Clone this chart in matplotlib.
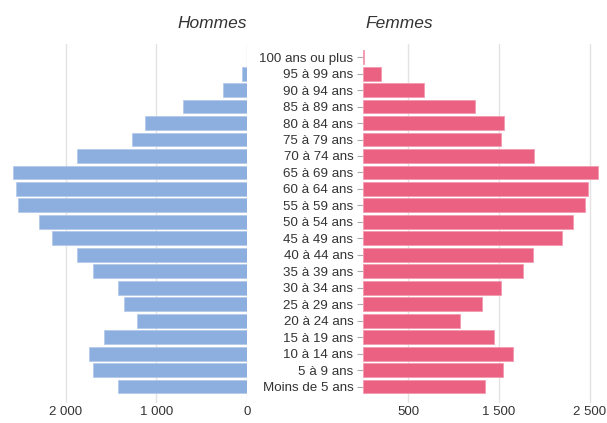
import matplotlib.pyplot as plt
import numpy as np

plt.rcParams['font.family'] = ['Liberation Sans', 'DejaVu Sans']

# Classes d'âge, de bas en haut
ages = ["Moins de 5 ans", "5 à 9 ans", "10 à 14 ans", "15 à 19 ans", "20 à 24 ans",
        "25 à 29 ans", "30 à 34 ans", "35 à 39 ans", "40 à 44 ans", "45 à 49 ans",
        "50 à 54 ans", "55 à 59 ans", "60 à 64 ans", "65 à 69 ans", "70 à 74 ans",
        "75 à 79 ans", "80 à 84 ans", "85 à 89 ans", "90 à 94 ans", "95 à 99 ans",
        "100 ans ou plus"]
hommes = [1424, 1699, 1740, 1582, 1215, 1358, 1424, 1699, 1869, 2155,
          2294, 2522, 2552, 2585, 1869, 1263, 1123, 708, 264, 60, 5]
femmes = [1345, 1539, 1650, 1440, 1072, 1315, 1521, 1760, 1871, 2191,
          2317, 2445, 2483, 2589, 1890, 1521, 1550, 1234, 674, 199, 12]

left_ticks = [2000, 1000, 0]
left_labels = ["2 000", "1 000", "0"]
right_ticks = [500, 1500, 2500]
right_labels = ["500", "1 500", "2 500"]

blue = "#8cafe0"
pink = "#eb6181"
grid = "#e3e3e3"
txt = "#333333"

W, H = 607, 423
fig = plt.figure(figsize=(W / 100, H / 100), dpi=100)

y = np.arange(len(ages))
xmax = 2650
scale = 0.0907  # px par unité
bottom = 1 - 403 / H
height = (403 - 44) / H

ax1 = fig.add_axes([(247 - xmax * scale) / W, bottom, xmax * scale / W, height])
ax2 = fig.add_axes([363 / W, bottom, xmax * scale / W, height])

ax1.barh(y, hommes, height=0.84, color=blue, edgecolor="#b5cbea", linewidth=0.6, zorder=3)
ax2.barh(y, femmes, height=0.84, color=pink, edgecolor="#f29ab0", linewidth=0.6, zorder=3)

ax1.set_xlim(xmax, 0)
ax2.set_xlim(0, xmax)
for ax in (ax1, ax2):
    ax.set_ylim(-1.0, 20.8)
    for s in ax.spines.values():
        s.set_visible(False)
    ax.grid(axis="x", color=grid, linewidth=1, zorder=0)
    ax.tick_params(axis="x", length=0, pad=2.5, labelsize=9.5, labelcolor=txt)

ax1.set_xticks(left_ticks)
ax1.set_xticklabels(left_labels)
ax1.set_yticks([])

ax2.set_xticks(right_ticks)
ax2.set_xticklabels(right_labels)
ax2.set_yticks(y)
ax2.set_yticklabels(ages)
ax2.tick_params(axis="y", length=4.5, width=0.8, color="#aaaaaa", pad=2.5,
                labelsize=9.6, labelcolor=txt)

fig.text(247 / W, 1 - 24 / H, "Hommes", ha="right", va="center", fontsize=12.5,
         style="italic", color=txt)
fig.text(365 / W, 1 - 24 / H, "Femmes", ha="left", va="center", fontsize=12.5,
         style="italic", color=txt)

fig.savefig("out.png", dpi=100)
